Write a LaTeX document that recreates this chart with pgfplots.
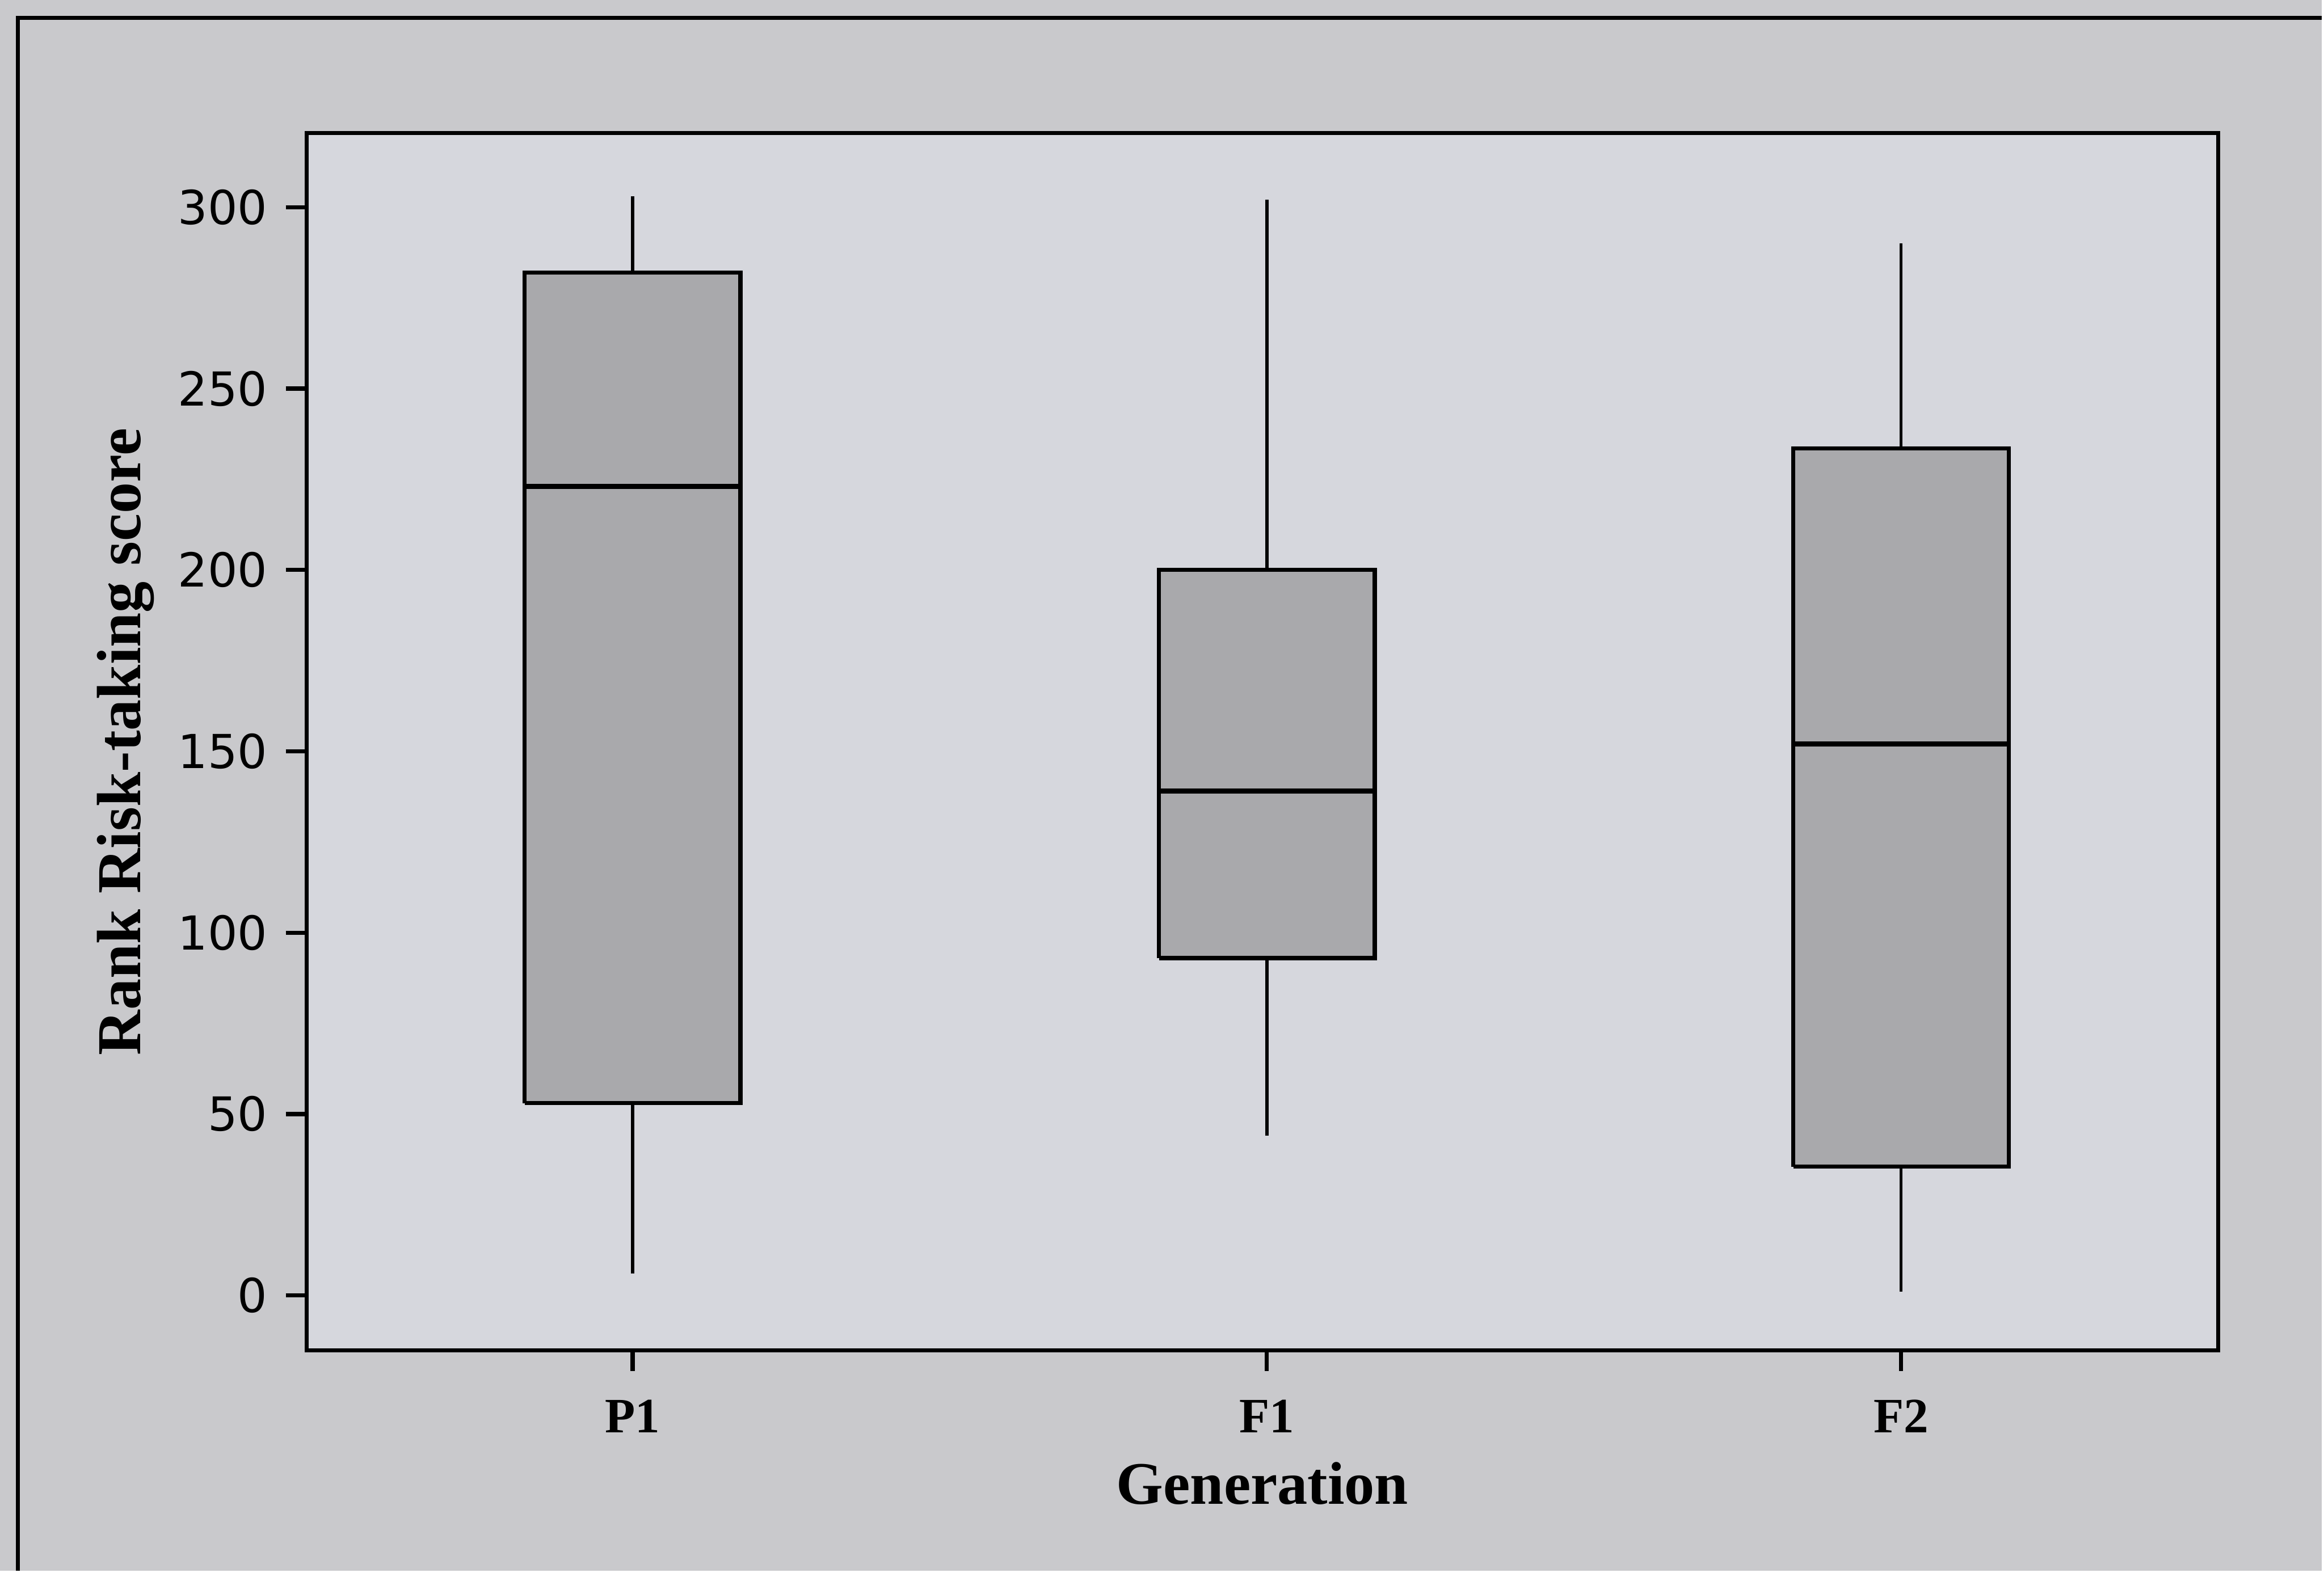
\documentclass[border=0pt]{standalone}
\usepackage{fontspec}
\setmainfont{Liberation Serif}
\newfontfamily\tickfont{DejaVu Sans}
\usepackage{pgfplots}
\pgfplotsset{compat=1.18}
\definecolor{outerbg}{RGB}{201,201,204}
\definecolor{plotbg}{RGB}{214,215,221}
\definecolor{boxfill}{RGB}{169,169,172}
\begin{document}
\begin{tikzpicture}
\fill[outerbg] (0,0) rectangle (15.68,10.61);
\draw[line width=0.8pt] (0.12,0) -- (0.12,10.49) -- (15.68,10.49);
\begin{axis}[
  at={(2.07cm,1.49cm)}, anchor=south west,
  scale only axis, width=12.91cm, height=8.22cm,
  xmin=0.486, xmax=3.5, ymin=-15.1, ymax=320.4,
  axis background/.style={fill=plotbg},
  axis line style={line width=0.8pt},
  xtick={1,2,3}, xticklabels={P1,F1,F2},
  ytick={0,50,...,300},
  tick align=outside, xtick pos=bottom, ytick pos=left,
  major tick length=0.14cm,
  every tick/.style={line width=0.8pt, black},
  /pgf/number format/assume math mode=true,
  yticklabel style={font=\tickfont\fontsize{9}{10}\selectfont},
  xticklabel style={font=\bfseries\fontsize{9.5}{11}\selectfont, yshift=-2pt},
  xlabel={Generation},
  ylabel={Rank Risk-taking score},
  xlabel style={font=\bfseries\fontsize{11.6}{13}\selectfont, at={(axis description cs:0.5,-0.1095)}, anchor=center},
  ylabel style={font=\bfseries\fontsize{12}{13}\selectfont, at={(axis description cs:-0.0945,0.5)}, anchor=center},
  boxs/.style={fill=boxfill, draw=black, line width=0.8pt, line join=miter, mark=none},
  whisk/.style={black, line width=0.6pt, mark=none},
  med/.style={black, line width=1pt, mark=none},
]
% P1: lower whisker 6, Q1 53, median 223, Q3 282, upper whisker 303
\addplot[whisk] coordinates {(1,6) (1,53)};
\addplot[whisk] coordinates {(1,282) (1,303)};
\addplot[boxs] coordinates {(0.83,53) (1.17,53) (1.17,282) (0.83,282) (0.83,53)};
\addplot[med] coordinates {(0.83,223) (1.17,223)};
% F1: 44, 93, 139, 200, 302
\addplot[whisk] coordinates {(2,44) (2,93)};
\addplot[whisk] coordinates {(2,200) (2,302)};
\addplot[boxs] coordinates {(1.83,93) (2.17,93) (2.17,200) (1.83,200) (1.83,93)};
\addplot[med] coordinates {(1.83,139) (2.17,139)};
% F2: 1, 35.5, 152, 233.5, 290
\addplot[whisk] coordinates {(3,1) (3,35.5)};
\addplot[whisk] coordinates {(3,233.5) (3,290)};
\addplot[boxs] coordinates {(2.83,35.5) (3.17,35.5) (3.17,233.5) (2.83,233.5) (2.83,35.5)};
\addplot[med] coordinates {(2.83,152) (3.17,152)};
\end{axis}
\end{tikzpicture}
\end{document}
